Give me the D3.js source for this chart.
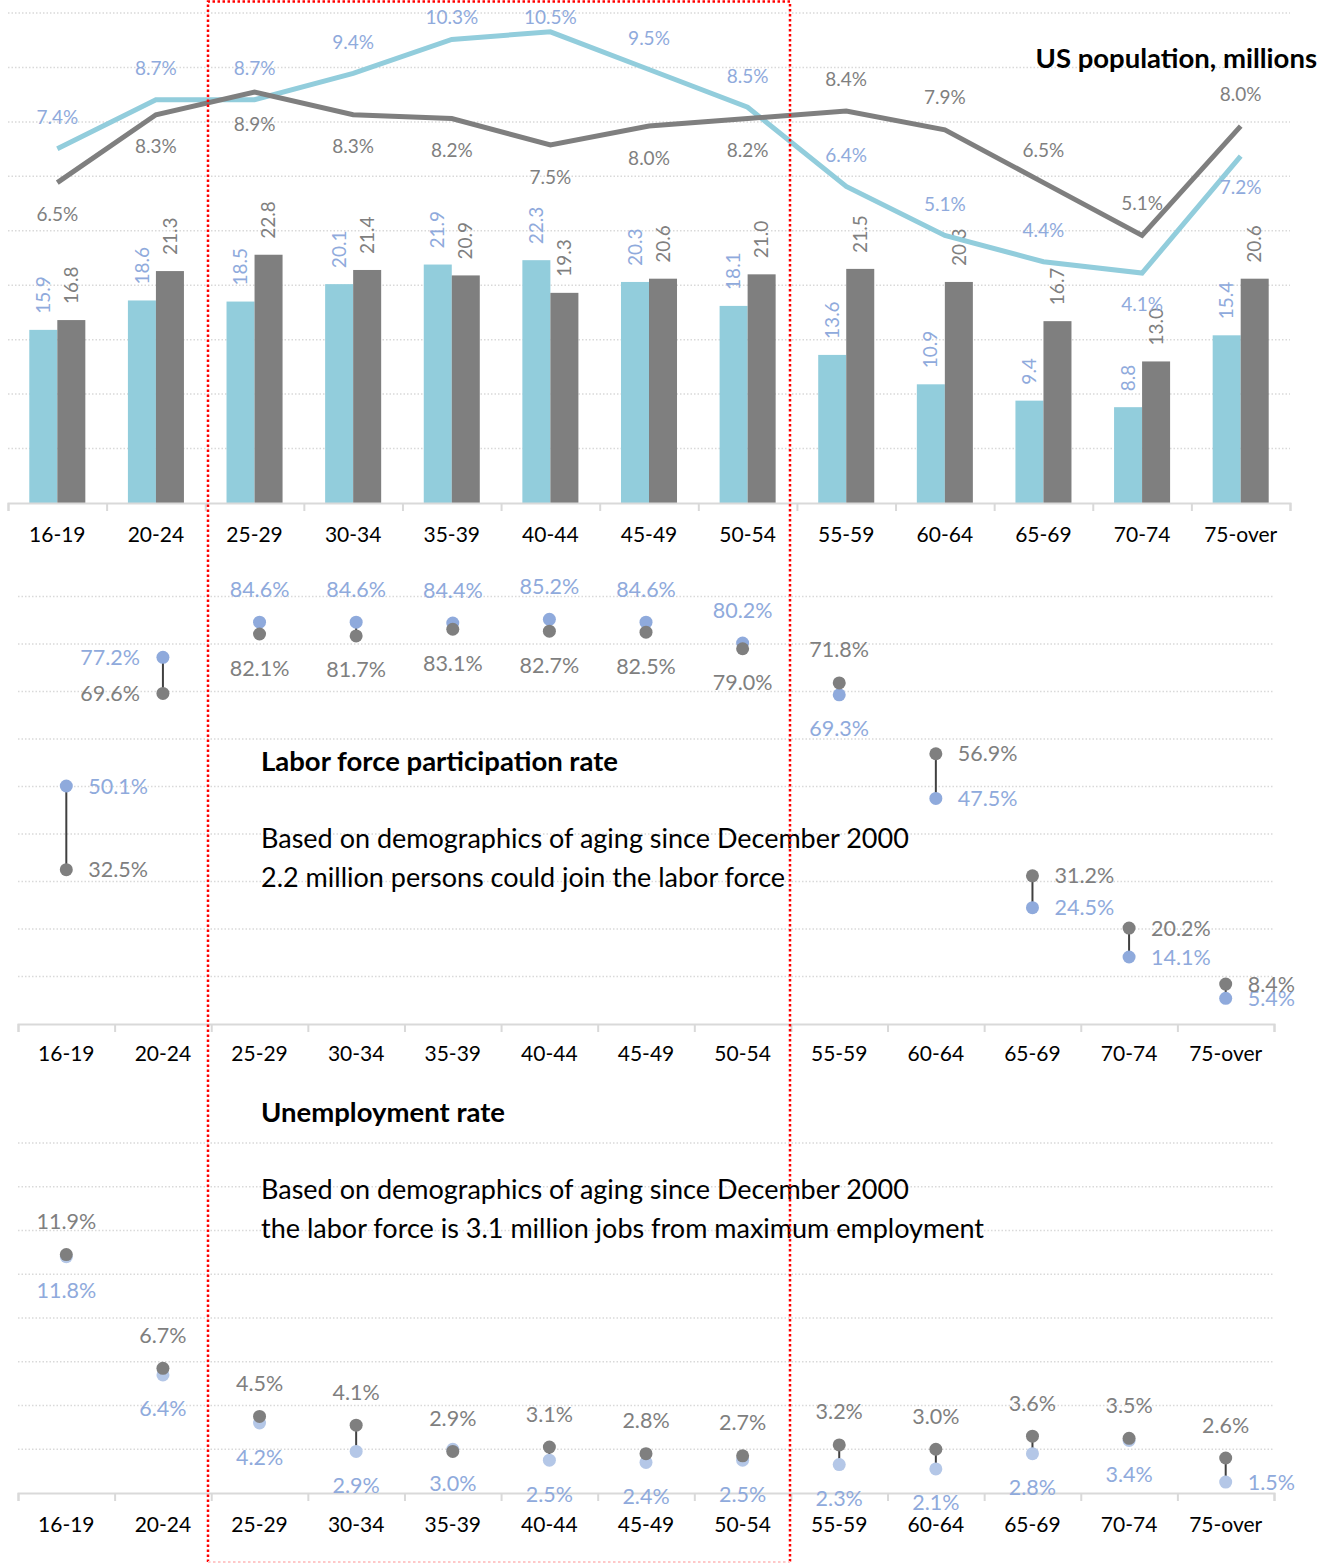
<!DOCTYPE html>
<html>
<head>
<meta charset="utf-8">
<script src="https://cdn.jsdelivr.net/npm/d3@7"></script>
<style>
  body { margin: 0; background: #fff; }
  svg text { font-family: Lato, "Open Sans", sans-serif; }
</style>
</head>
<body>
<svg id="chart"></svg>
<script>
// ---- data (blue = December 2000, gray = now) ----
const ageGroups = ['16-19','20-24','25-29','30-34','35-39','40-44','45-49','50-54','55-59','60-64','65-69','70-74','75-over'];

const popMillions2000 = [15.9, 18.6, 18.5, 20.1, 21.9, 22.3, 20.3, 18.1, 13.6, 10.9, 9.4, 8.8, 15.4];
const popMillionsNow  = [16.8, 21.3, 22.8, 21.4, 20.9, 19.3, 20.6, 21.0, 21.5, 20.3, 16.7, 13.0, 20.6];
const popShare2000    = [7.4, 8.7, 8.7, 9.4, 10.3, 10.5, 9.5, 8.5, 6.4, 5.1, 4.4, 4.1, 7.2];
const popShareNow     = [6.5, 8.3, 8.9, 8.3, 8.2, 7.5, 8.0, 8.2, 8.4, 7.9, 6.5, 5.1, 8.0];

const lfpr2000 = [50.1, 77.2, 84.6, 84.6, 84.4, 85.2, 84.6, 80.2, 69.3, 47.5, 24.5, 14.1, 5.4];
const lfprNow  = [32.5, 69.6, 82.1, 81.7, 83.1, 82.7, 82.5, 79.0, 71.8, 56.9, 31.2, 20.2, 8.4];

const unemp2000 = [11.8, 6.4, 4.2, 2.9, 3.0, 2.5, 2.4, 2.5, 2.3, 2.1, 2.8, 3.4, 1.5];
const unempNow  = [11.9, 6.7, 4.5, 4.1, 2.9, 3.1, 2.8, 2.7, 3.2, 3.0, 3.6, 3.5, 2.6];

// ---- label placement (layout only) ----
// top lines: -1 label above the point, +1 below
const blueLineSide = [-1,-1,-1,-1,-1,-1,-1,-1,-1,-1,-1, 1, 1];
const grayLineSide = [ 1, 1, 1, 1, 1, 1, 1, 1,-1,-1,-1,-1,-1];
// dumbbells: right / left / split (blue up) / splitInv (gray up) / grayUpBlueRight
const lfprMode  = ['right','left','split','split','split','split','split','split','splitInv','right','right','right','right'];
const unempMode = ['splitInv','splitInv','splitInv','splitInv','splitInv','splitInv','splitInv','splitInv','splitInv','splitInv','splitInv','splitInv','grayUpBlueRight'];

const BLUE_BAR = '#92CDDC', GRAY = '#7F7F7F', BLUE_TXT = '#8FAADC', BLUE_DOT = '#8FAADC', BLUE_DOT_LIGHT = '#B4C7E7';
const GRID = '#D9D9D9';

const W = 1335, H = 1564;
const svg = d3.select('#chart').attr('width', W).attr('height', H);

function grid(g, y, ticks, x0, x1) {
  g.selectAll('line.grid').data(ticks).join('line')
    .attr('x1', x0).attr('x2', x1)
    .attr('y1', d => y(d)).attr('y2', d => y(d))
    .attr('stroke', GRID).attr('stroke-width', 1.5).attr('stroke-dasharray', '1.5,2');
}

function bottomAxis(g, x, yBase, labelDy) {
  const [x0, x1] = x.range();
  const tickScale = d3.scaleLinear().domain([0, ageGroups.length]).range([x0, x1]);
  const ax = g.append('g').attr('transform', `translate(0,${yBase})`)
    .call(d3.axisBottom(tickScale).ticks(ageGroups.length).tickSize(8).tickFormat(''));
  ax.select('.domain').attr('stroke', GRID).attr('stroke-width', 2);
  ax.selectAll('.tick line').attr('stroke', GRID).attr('stroke-width', 2);
  g.selectAll('text.cat').data(ageGroups).join('text')
    .attr('x', d => x(d) + x.bandwidth() / 2).attr('y', yBase + labelDy)
    .attr('dy', '0.35em').attr('text-anchor', 'middle')
    .attr('font-size', 21).attr('fill', '#000').text(d => d);
}

const pct = v => v.toFixed(1) + '%';

// ================= TOP: population =================
{
  const g = svg.append('g');
  const x = d3.scaleBand().domain(ageGroups).range([8, 1290]);
  const sub = d3.scaleBand().domain(['b', 'g']).range([0, x.bandwidth()]).paddingOuter(0.76);
  const yB = d3.scaleLinear().domain([0, 45]).range([503, 13]);
  const yL = d3.scaleLinear().domain([-2, 11]).range([503, 13]);
  const cx = i => x(ageGroups[i]) + x.bandwidth() / 2;

  grid(g, yB, d3.range(5, 46, 5), 8, 1290);

  const series = [
    { key: 'b', vals: popMillions2000, fill: BLUE_BAR, txt: BLUE_TXT },
    { key: 'g', vals: popMillionsNow, fill: GRAY, txt: GRAY }
  ];
  series.forEach(s => {
    g.selectAll(null).data(s.vals).join('rect')
      .attr('x', (d, i) => x(ageGroups[i]) + sub(s.key))
      .attr('width', sub.bandwidth())
      .attr('y', d => yB(d)).attr('height', d => yB(0) - yB(d))
      .attr('fill', s.fill);
    g.selectAll(null).data(s.vals).join('text')
      .attr('transform', (d, i) => `translate(${x(ageGroups[i]) + sub(s.key) + sub.bandwidth() / 2},${yB(d) - 16}) rotate(-90)`)
      .attr('dy', '0.35em').attr('font-size', 19).attr('fill', s.txt)
      .text(d => d.toFixed(1));
  });

  bottomAxis(g, x, 503, 32);

  const line = d3.line().x((d, i) => cx(i)).y(d => yL(d));
  g.append('path').datum(popShare2000).attr('d', line)
    .attr('fill', 'none').attr('stroke', BLUE_BAR).attr('stroke-width', 5);
  g.append('path').datum(popShareNow).attr('d', line)
    .attr('fill', 'none').attr('stroke', GRAY).attr('stroke-width', 5);

  // labels are kept inside the plot area, as the spreadsheet does
  g.selectAll(null).data(popShare2000).join('text')
    .attr('x', (d, i) => cx(i)).attr('y', (d, i) => Math.max(17, yL(d) + blueLineSide[i] * 31))
    .attr('dy', '0.35em').attr('text-anchor', 'middle').attr('font-size', 19)
    .attr('fill', BLUE_TXT).text(pct);
  g.selectAll(null).data(popShareNow).join('text')
    .attr('x', (d, i) => cx(i)).attr('y', (d, i) => Math.max(17, yL(d) + grayLineSide[i] * 32))
    .attr('dy', '0.35em').attr('text-anchor', 'middle').attr('font-size', 19)
    .attr('fill', GRAY).text(pct);

  g.append('text').attr('x', 1317).attr('y', 58).attr('dy', '0.35em')
    .attr('text-anchor', 'end').attr('font-size', 27.5).attr('font-weight', 700)
    .attr('fill', '#000').text('US population, millions');
}

// ================= dumbbell helper =================
function dumbbell(g, x, y, blueVals, grayVals, modes, blueDot) {
  const cx = i => x(ageGroups[i]) + x.bandwidth() / 2;
  ageGroups.forEach((a, i) => {
    const b = blueVals[i], k = grayVals[i];
    g.append('line').attr('x1', cx(i)).attr('x2', cx(i))
      .attr('y1', y(b)).attr('y2', y(k)).attr('stroke', '#404040').attr('stroke-width', 2);
    g.append('circle').attr('cx', cx(i)).attr('cy', y(b)).attr('r', 6.5).attr('fill', blueDot);
    g.append('circle').attr('cx', cx(i)).attr('cy', y(k)).attr('r', 6.5).attr('fill', GRAY);

    const m = modes[i];
    const lab = (xx, yy, anchor, color, v) => g.append('text')
      .attr('x', xx).attr('y', yy).attr('dy', '0.35em').attr('text-anchor', anchor)
      .attr('font-size', 21.5).attr('fill', color).text(pct(v));
    if (m === 'right') {
      lab(cx(i) + 22, y(b), 'start', BLUE_TXT, b);
      lab(cx(i) + 22, y(k), 'start', GRAY, k);
    } else if (m === 'left') {
      lab(cx(i) - 23, y(b), 'end', BLUE_TXT, b);
      lab(cx(i) - 23, y(k), 'end', GRAY, k);
    } else if (m === 'split') {
      lab(cx(i), y(b) - 33, 'middle', BLUE_TXT, b);
      lab(cx(i), y(k) + 34, 'middle', GRAY, k);
    } else if (m === 'splitInv') {
      lab(cx(i), y(k) - 33, 'middle', GRAY, k);
      lab(cx(i), y(b) + 34, 'middle', BLUE_TXT, b);
    } else {
      lab(cx(i), y(k) - 33, 'middle', GRAY, k);
      lab(cx(i) + 22, y(b), 'start', BLUE_TXT, b);
    }
  });
}

function noteText(g, x0, y0, lines) {
  g.append('text').attr('x', x0).attr('y', y0).attr('dy', '0.35em')
    .attr('font-size', 27.5).attr('font-weight', 700).attr('fill', '#000').text(lines[0]);
  lines.slice(1).forEach((t, j) => {
    g.append('text').attr('x', x0).attr('y', y0 + 78 + j * 39).attr('dy', '0.35em')
      .attr('font-size', 27).attr('fill', '#000').text(t);
  });
}

// ================= MIDDLE: labor force participation =================
{
  const g = svg.append('g');
  const x = d3.scaleBand().domain(ageGroups).range([18, 1274]);
  const y = d3.scaleLinear().domain([0, 90]).range([1024, 596.5]);
  grid(g, y, d3.range(10, 91, 10), 18, 1274);
  bottomAxis(g, x, 1024, 30);
  noteText(g, 261, 761, ['Labor force participation rate',
    'Based on demographics of aging since December 2000',
    '2.2 million persons could join the labor force']);
  dumbbell(g, x, y, lfpr2000, lfprNow, lfprMode, BLUE_DOT);
}

// ================= BOTTOM: unemployment =================
{
  const g = svg.append('g');
  const x = d3.scaleBand().domain(ageGroups).range([18, 1274]);
  const y = d3.scaleLinear().domain([1, 17]).range([1493, 1143]);
  grid(g, y, d3.range(3, 18, 2), 18, 1274);
  bottomAxis(g, x, 1493, 32);
  noteText(g, 261, 1112, ['Unemployment rate',
    'Based on demographics of aging since December 2000',
    'the labor force is 3.1 million jobs from maximum employment']);
  dumbbell(g, x, y, unemp2000, unempNow, unempMode, BLUE_DOT_LIGHT);
}

// ================= red dotted highlight box =================
svg.append('path').attr('d', 'M208,1562 L208,1.5 L790,1.5 L790,1562')
  .attr('fill', 'none').attr('stroke', '#FF0000').attr('stroke-width', 2.5)
  .attr('stroke-dasharray', '2.5,2.5');
svg.append('line').attr('x1', 208).attr('x2', 790).attr('y1', 1562).attr('y2', 1562)
  .attr('stroke', '#FFC8C8').attr('stroke-width', 2).attr('stroke-dasharray', '2.5,2.5');
</script>
</body>
</html>
